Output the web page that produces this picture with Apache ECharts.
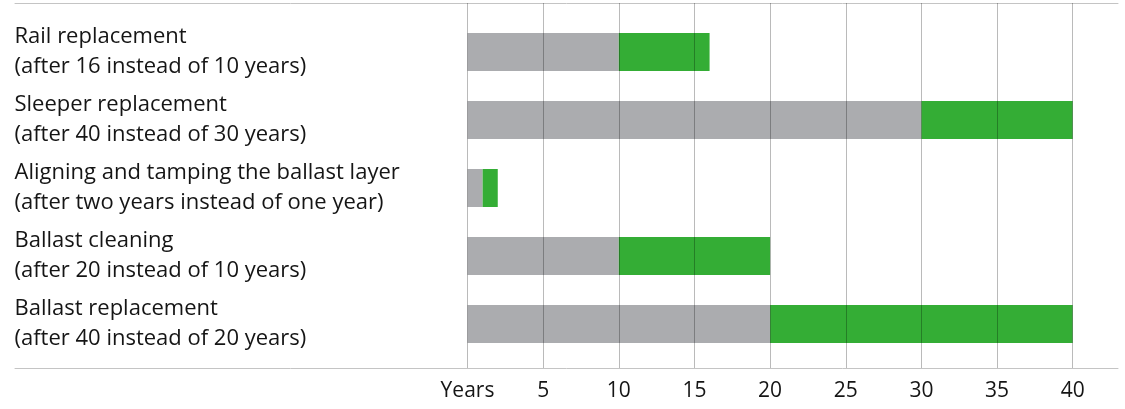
<!DOCTYPE html>
<html>
<head>
<meta charset="utf-8">
<script src="https://cdn.jsdelivr.net/npm/echarts@6/dist/echarts.min.js"></script>
<style>
  html, body { margin: 0; padding: 0; background: #fff; }
  #chart { width: 1125px; height: 409px; }
</style>
</head>
<body>
<div id="chart"></div>
<script>
// measures, top to bottom
const categories = [
  'Rail replacement\n(after 16 instead of 10 years)',
  'Sleeper replacement\n(after 40 instead of 30 years)',
  'Aligning and tamping the ballast layer\n(after two years instead of one year)',
  'Ballast cleaning\n(after 20 instead of 10 years)',
  'Ballast replacement\n(after 40 instead of 20 years)'
];
// old interval (years) and the extra years gained
const previousInterval = [10, 30, 1, 10, 20];
const extraYears = [6, 10, 1, 10, 20];

const xMin = 0;
const xMax = 40;
const xStep = 5;
const firstTickLabel = 'Years';

const textColor = '#151515';
const font = '"Open Sans", "Noto Sans", sans-serif';

const chart = echarts.init(document.getElementById('chart'), null, { renderer: 'canvas' });

const option = {
  animation: false,
  grid: [
    // bars
    { left: 467.5, right: 52.3, top: 18, bottom: 51 },
    // value axis + vertical grid lines
    { left: 467.5, right: 52.3, top: 3, bottom: 41 },
    // horizontal frame rules
    { left: 15, right: 7, top: 3, bottom: 41 }
  ],
  xAxis: [
    { gridIndex: 0, type: 'value', min: xMin, max: xMax, interval: xStep, show: false },
    {
      gridIndex: 1, type: 'value', min: xMin, max: xMax, interval: xStep, z: 5,
      axisLine: { show: false },
      axisTick: { show: false },
      splitLine: { show: true, lineStyle: { color: 'rgba(0,0,0,0.27)', width: 1 } },
      axisLabel: {
        margin: 13,
        color: textColor,
        fontFamily: font,
        fontSize: 21,
        formatter: v => (v === xMin ? firstTickLabel : String(v))
      }
    },
    {
      gridIndex: 2, type: 'value', position: 'bottom', min: 0, max: 1,
      axisLine: { show: true, onZero: false, lineStyle: { color: '#c4c4c4', width: 1 } },
      axisTick: { show: false }, axisLabel: { show: false }, splitLine: { show: false }
    },
    {
      gridIndex: 2, type: 'value', position: 'top', min: 0, max: 1,
      axisLine: { show: true, onZero: false, lineStyle: { color: '#c4c4c4', width: 1 } },
      axisTick: { show: false }, axisLabel: { show: false }, splitLine: { show: false }
    }
  ],
  yAxis: [
    {
      gridIndex: 0,
      type: 'category',
      inverse: true,
      data: categories,
      axisLine: { show: false },
      axisTick: { show: false },
      axisLabel: {
        align: 'left',
        margin: 453,
        color: textColor,
        fontFamily: font,
        fontSize: 22,
        lineHeight: 30
      }
    },
    { gridIndex: 1, type: 'value', show: false },
    { gridIndex: 2, type: 'value', show: false }
  ],
  series: [
    {
      name: 'Previous interval',
      type: 'bar',
      stack: 'years',
      xAxisIndex: 0,
      yAxisIndex: 0,
      barWidth: 38,
      itemStyle: { color: '#abacaf' },
      data: previousInterval
    },
    {
      name: 'Extended interval',
      type: 'bar',
      stack: 'years',
      xAxisIndex: 0,
      yAxisIndex: 0,
      barWidth: 38,
      itemStyle: { color: '#34ad35' },
      data: extraYears
    }
  ]
};

chart.setOption(option);
</script>
</body>
</html>
